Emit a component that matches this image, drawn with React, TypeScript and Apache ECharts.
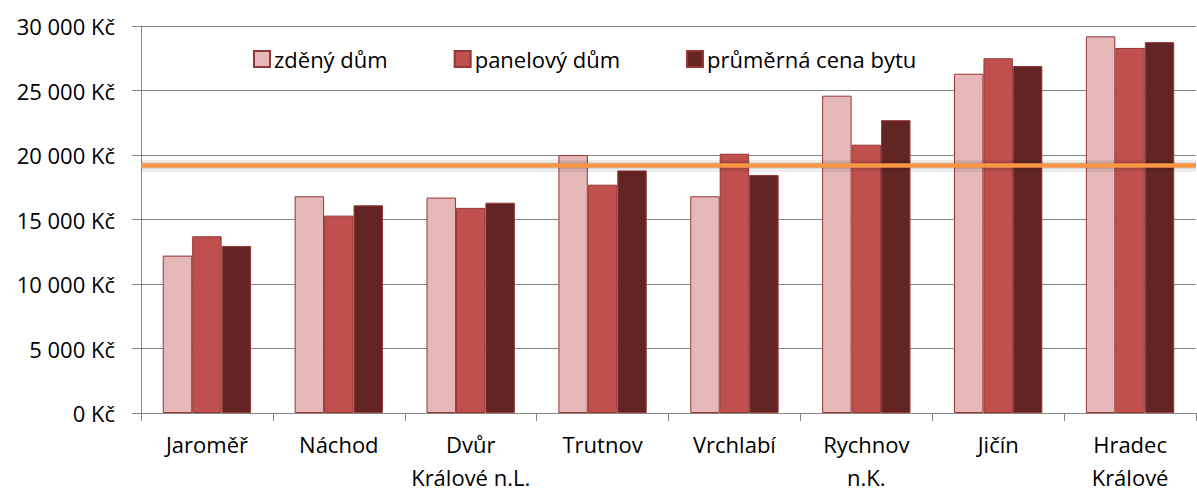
import React, { useEffect, useRef } from "react";
import * as echarts from "echarts";

const categories = [
  "Jaroměř",
  "Náchod",
  "Dvůr\nKrálové n.L.",
  "Trutnov",
  "Vrchlabí",
  "Rychnov\nn.K.",
  "Jičín",
  "Hradec\nKrálové",
];
const seriesNames = ["zděný dům", "panelový dům", "průměrná cena bytu"];
const zdenyDum = [12200, 16800, 16700, 20000, 16800, 24600, 26300, 29200];
const panelovyDum = [13700, 15300, 15900, 17700, 20100, 20800, 27500, 28300];
const prumernaCena = [12950, 16100, 16300, 18800, 18450, 22700, 26900, 28750];
const averageLine = 19170;
const yTicks = { min: 0, max: 30000, interval: 5000 };

const colors = ["#E6B9B8", "#C0504D", "#632523"];
const FONT = "Open Sans";

function fmt(v: number): string {
  return String(v).replace(/\B(?=(\d{3})+(?!\d))/g, " ") + " Kč";
}

export default function App() {
  const ref = useRef<HTMLDivElement>(null);
  useEffect(() => {
    if (!ref.current) return;
    const chart = echarts.init(ref.current, null, { renderer: "svg" });
    const data = [zdenyDum, panelovyDum, prumernaCena];
    chart.setOption({
      animation: false,
      textStyle: { fontFamily: FONT },
      grid: { left: 141, right: 1, top: 26, bottom: 76, containLabel: false },
      legend: {
        top: 43,
        left: 248,
        itemWidth: 16,
        itemHeight: 16,
        itemGap: 66,
        icon: "rect",
        textStyle: { fontFamily: FONT, fontSize: 22, color: "#000", padding: [0, 0, 0, -1] },
        data: seriesNames,
      },
      xAxis: {
        type: "category",
        data: categories,
        axisLine: { lineStyle: { color: "#868686", width: 1 } },
        axisTick: { show: true, length: 8, alignWithLabel: false, lineStyle: { color: "#868686" } },
        axisLabel: {
          fontFamily: FONT,
          fontSize: 22,
          color: "#000",
          margin: 14,
          lineHeight: 33,
          interval: 0,
        },
      },
      yAxis: {
        type: "value",
        min: yTicks.min,
        max: yTicks.max,
        interval: yTicks.interval,
        axisLine: { show: true, lineStyle: { color: "#868686", width: 1 } },
        axisTick: { show: true, length: 9, lineStyle: { color: "#868686" } },
        splitLine: { show: true, lineStyle: { color: "#868686", width: 1 } },
        axisLabel: {
          fontFamily: FONT,
          fontSize: 22,
          color: "#000",
          margin: 26,
          formatter: (v: number) => fmt(v),
        },
      },
      series: seriesNames.map((name, i) => ({
        name,
        type: "bar",
        data: data[i],
        barGap: "0%",
        barCategoryGap: "33%",
        itemStyle: { color: colors[i], borderColor: "#953735", borderWidth: 1 },
        markLine:
          i === 2
            ? {
                silent: true,
                symbol: ["none", "none"],
                label: { show: false },
                data: [
                  {
                    yAxis: averageLine,
                    lineStyle: { color: "rgba(0,0,0,0.07)", width: 12, type: "solid" },
                  },
                  {
                    yAxis: averageLine,
                    lineStyle: { color: "rgba(0,0,0,0.08)", width: 7, type: "solid" },
                  },
                  {
                    yAxis: averageLine,
                    lineStyle: { color: "#F79646", width: 4.5, type: "solid" },
                  },
                ],
              }
            : undefined,
      })),
    });
    return () => chart.dispose();
  }, []);
  return (
    <div
      ref={ref}
      style={{ position: "fixed", left: 0, top: 0, width: 1197, height: 493, background: "#fff" }}
    />
  );
}
